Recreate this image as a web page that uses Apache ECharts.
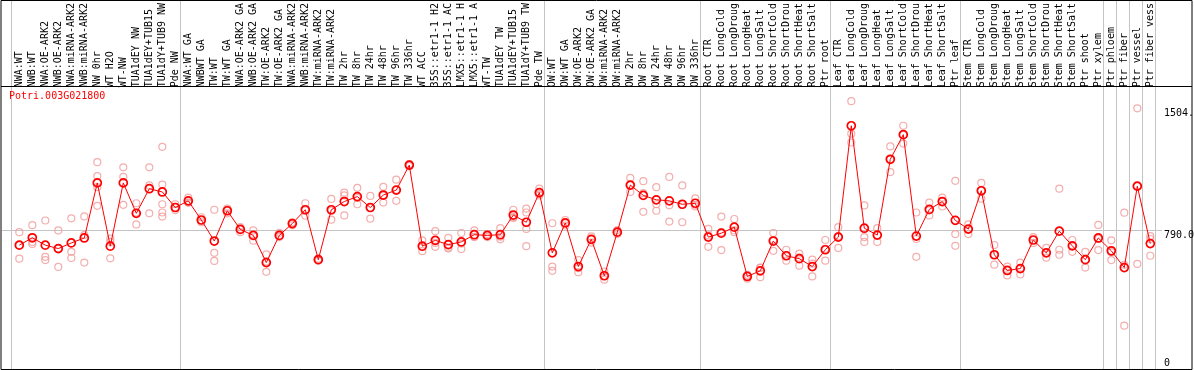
<!DOCTYPE html>
<html><head><meta charset="utf-8">
<script src="https://cdn.jsdelivr.net/npm/echarts/dist/echarts.min.js"></script>
<style>html,body{margin:0;padding:0;background:#fff}#c{width:1194px;height:370px}</style>
</head><body><div id="c"></div>
<script>
const geneName = 'Potri.003G021800';
const categories = [
 'NWA:WT','NWB:WT','NWA:OE-ARK2','NWB:OE-ARK2','NWA:miRNA-ARK2','NWB:miRNA-ARK2','NW 0hr','WT H2O','WT-NW','TUA1dEY NW','TUA1dEY+TUB15 NW','TUA1dY+TUB9 NW','Pde NW',
 'NWA:WT GA','NWBWT GA','TW:WT','TW:WT GA','NWA:OE-ARK2 GA','NWB:OE-ARK2 GA','TW:OE-ARK2','TW:OE-ARK2 GA','NWA:miRNA-ARK2 GA','NWB:miRNA-ARK2 GA','TW:miRNA-ARK2','TW:miRNA-ARK2 GA','TW 2hr','TW 8hr','TW 24hr','TW 48hr','TW 96hr','TW 336hr','WT ACC','35S::etr1-1 H2O','35S::etr1-1 ACC','LMX5::etr1-1 H2O','LMX5::etr1-1 ACC','WT-TW','TUA1dEY TW','TUA1dEY+TUB15 TW','TUA1dY+TUB9 TW','Pde TW',
 'OW:WT','OW:WT GA','OW:OE-ARK2','OW:OE-ARK2 GA','OW:miRNA-ARK2','OW:miRNA-ARK2 GA','OW 2hr','OW 8hr','OW 24hr','OW 48hr','OW 96hr','OW 336hr',
 'Root CTR','Root LongCold','Root LongDrought','Root LongHeat','Root LongSalt','Root ShortCold','Root ShortDrought','Root ShortHeat','Root ShortSalt','Ptr root',
 'Leaf CTR','Leaf LongCold','Leaf LongDrought','Leaf LongHeat','Leaf LongSalt','Leaf ShortCold','Leaf ShortDrought','Leaf ShortHeat','Leaf ShortSalt','Ptr leaf',
 'Stem CTR','Stem LongCold','Stem LongDrought','Stem LongHeat','Stem LongSalt','Stem ShortCold','Stem ShortDrought','Stem ShortHeat','Stem ShortSalt','Ptr shoot','Ptr xylem',
 'Ptr phloem','Ptr fiber','Ptr vessel','Ptr fiber vessel'
];
const means = [
 704,747,704,684,717,746,1068,698,1068,890,1034,1015,924,
 963,851,728,905,796,761,602,761,830,911,619,911,959,988,924,997,1026,1172,698,732,707,723,765,761,765,880,838,1011,
 659,834,579,738,525,780,1055,995,969,963,943,949,
 751,774,809,521,554,728,642,625,579,677,
 751,1402,803,763,1206,1350,757,913,959,849,
 798,1022,648,556,567,734,659,786,700,619,746,
 671,573,1049,713
];
const replicates = [
 [780,704,625],[821,723,711],[848,636,617],[790,685,577],[861,665,629],[872,763,602],[1189,1107,1043,934],[742,723,627],[1159,1103,940],[949,895,825],[1159,1053,890],[1279,1058,943,895,871],[943,924,909],
 [982,953,953],[867,849,838],[911,659,612],[918,907,890],[809,798,780],[790,763,730],[650,608,548],[776,757,751],[838,832,821],[949,907,876],[625,619,613],[974,905,853],[1011,995,878],[1039,980,943],[992,922,859],[1045,993,953],[1087,1028,963],[1178,1172,1166],[732,692,669],[786,717,694],[747,690,684],[775,713,681],[790,753,751],[769,761,751],[803,753,738],[911,867,863],[918,895,799,698],[1034,1003,995],
 [832,579,554],[851,832,819],[617,569,546],[755,738,719],[550,525,502],[792,780,769],[1097,1055,1015],[1078,1008,899],[1043,943,905],[1103,937,842],[1053,940,838],[978,940,930],
 [799,761,694],[871,779,675],[857,790,780],[531,525,508],[573,571,517],[775,734,671],[677,642,613],[654,631,584],[619,596,521],[734,682,613],
 [809,757,688],[1546,1356,1304],[936,751,723],[803,763,723],[1281,1206,1131],[1402,1350,1298],[895,740,636],[953,907,878],[982,959,930],[1080,769,700],
 [826,798,769],[1068,1022,976],[705,648,590],[579,556,527],[602,567,533],[751,734,717],[688,659,631],[1034,677,648],[734,700,665],[665,619,573],[822,740,675],
 [732,663,617],[894,589,233],[1504,1049,594],[757,740,642]
];
const groupStarts = [0,13,41,53,63,73,84,85,86,87,88];
const yTickValues = [0, 790, 1504];
const yTickLabels = ['0', '790.0', '1504.'];

const FONT = 'DejaVu Sans Mono';
const repData = [];
replicates.forEach((r, i) => r.forEach(v => repData.push([i, v])));

const chart = echarts.init(document.getElementById('c'), null, {renderer: 'canvas'});
const option = {
  animation: false,
  backgroundColor: '#fff',
  textStyle: {fontFamily: FONT},
  title: {text: geneName, left: 9, top: 91, padding: 0,
    textStyle: {color: '#ff0000', fontFamily: FONT, fontSize: 10, fontWeight: 'normal'}},
  grid: {left: 12.8, right: 37.2, top: 86, bottom: 0, containLabel: false},
  xAxis: {
    type: 'category', position: 'top', data: categories, boundaryGap: true,
    axisLine: {show: false}, axisTick: {show: false}, splitLine: {show: false},
    axisLabel: {interval: 0, rotate: 90, margin: 3, color: '#000', fontFamily: FONT, fontSize: 10,
      width: 87, overflow: 'truncate', ellipsis: ''}
  },
  yAxis: {
    type: 'value', min: -25.9, max: 1609.4, show: false
  },
  series: [
    {type: 'scatter', data: repData, symbol: 'circle', symbolSize: 7, silent: true, z: 2,
      itemStyle: {color: 'rgba(0,0,0,0)', borderColor: '#f09a9a', borderWidth: 1.2}},
    {type: 'line', data: means, symbol: 'circle', symbolSize: 8, showAllSymbol: true, silent: true, z: 3,
      lineStyle: {color: '#ff0000', width: 1},
      itemStyle: {color: 'rgba(0,0,0,0)', borderColor: '#ff0000', borderWidth: 1.7}}
  ]
};
chart.setOption(option);

const px = i => chart.convertToPixel({xAxisIndex: 0}, categories[i]);
const py = v => chart.convertToPixel({yAxisIndex: 0}, v);
const band = px(1) - px(0);
const W = chart.getWidth(), H = chart.getHeight();
const gfx = [];
groupStarts.forEach(n => {
  const center = n < categories.length ? px(n) : px(categories.length - 1) + band;
  const x = Math.round(center - 0.64 * band) + 0.5;
  gfx.push({type: 'line', z: 0, silent: true, shape: {x1: x, y1: 0, x2: x, y2: H},
    style: {stroke: '#c4c4c4', lineWidth: 1}});
});
const y790 = Math.round(py(790)) + 0.5;
gfx.push({type: 'line', z: 0, silent: true, shape: {x1: 2, y1: y790, x2: 1162, y2: y790},
  style: {stroke: '#c4c4c4', lineWidth: 1}});
const gridTop = 86;
gfx.push({type: 'line', z: 5, silent: true, shape: {x1: 1, y1: gridTop + 0.5, x2: W - 2, y2: gridTop + 0.5},
  style: {stroke: '#000', lineWidth: 1}});
gfx.push({type: 'rect', z: 5, silent: true, shape: {x: 1, y: 0.5, width: W - 3, height: H - 1},
  style: {fill: null, stroke: '#000', lineWidth: 1}});
yTickValues.forEach((v, k) => {
  const y = Math.min(py(v), H - 12);
  gfx.push({type: 'text', z: 5, silent: true, x: 1164, y: y,
    style: {text: yTickLabels[k], fill: '#000', font: '10px "' + FONT + '"', textAlign: 'left', textVerticalAlign: 'top'}});
});
chart.setOption({graphic: gfx});
</script></body></html>
